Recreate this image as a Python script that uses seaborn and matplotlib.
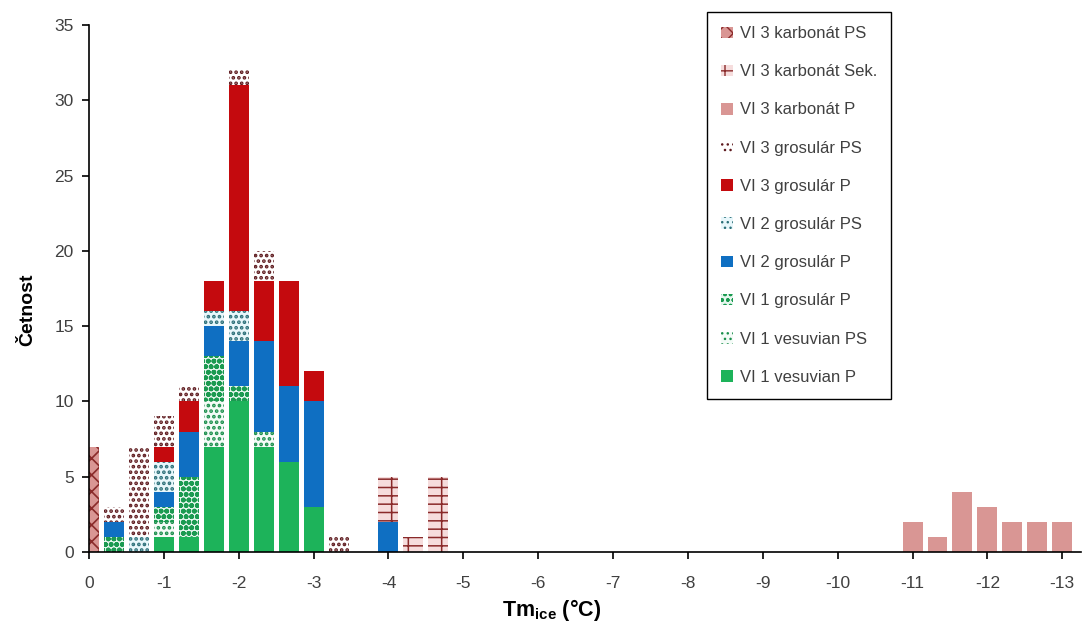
import numpy as np
import pandas as pd
import matplotlib
matplotlib.use("Agg")
import matplotlib.pyplot as plt
from matplotlib.patches import Patch
import seaborn as sns

# ---- data: 40 categories, Tm ice from 0 to -13 in steps of 1/3 °C ----
cat_idx = list(range(40))
tick_pos = [0, 3, 6, 9, 12, 15, 18, 21, 24, 27, 30, 33, 36, 39]
tick_labels = ["0", "-1", "-2", "-3", "-4", "-5", "-6", "-7", "-8", "-9",
               "-10", "-11", "-12", "-13"]

vi1_vesuvian_P = [0, 0, 0, 1, 1, 7, 10, 7, 6, 3, 0, 0, 0, 0, 0, 0, 0, 0, 0, 0,
                  0, 0, 0, 0, 0, 0, 0, 0, 0, 0, 0, 0, 0, 0, 0, 0, 0, 0, 0, 0]
vi1_vesuvian_PS = [0, 0, 0, 1, 0, 3, 0, 1, 0, 0, 0, 0, 0, 0, 0, 0, 0, 0, 0, 0,
                   0, 0, 0, 0, 0, 0, 0, 0, 0, 0, 0, 0, 0, 0, 0, 0, 0, 0, 0, 0]
vi1_grosular_P = [0, 1, 0, 1, 4, 3, 1, 0, 0, 0, 0, 0, 0, 0, 0, 0, 0, 0, 0, 0,
                  0, 0, 0, 0, 0, 0, 0, 0, 0, 0, 0, 0, 0, 0, 0, 0, 0, 0, 0, 0]
vi2_grosular_P = [0, 1, 0, 1, 3, 2, 3, 6, 5, 7, 0, 0, 2, 0, 0, 0, 0, 0, 0, 0,
                  0, 0, 0, 0, 0, 0, 0, 0, 0, 0, 0, 0, 0, 0, 0, 0, 0, 0, 0, 0]
vi2_grosular_PS = [0, 0, 1, 2, 0, 1, 2, 0, 0, 0, 0, 0, 0, 0, 0, 0, 0, 0, 0, 0,
                   0, 0, 0, 0, 0, 0, 0, 0, 0, 0, 0, 0, 0, 0, 0, 0, 0, 0, 0, 0]
vi3_grosular_P = [0, 0, 0, 1, 2, 2, 15, 4, 7, 2, 0, 0, 0, 0, 0, 0, 0, 0, 0, 0,
                  0, 0, 0, 0, 0, 0, 0, 0, 0, 0, 0, 0, 0, 0, 0, 0, 0, 0, 0, 0]
vi3_grosular_PS = [0, 1, 6, 2, 1, 0, 1, 2, 0, 0, 1, 0, 0, 0, 0, 0, 0, 0, 0, 0,
                   0, 0, 0, 0, 0, 0, 0, 0, 0, 0, 0, 0, 0, 0, 0, 0, 0, 0, 0, 0]
vi3_karbonat_P = [0, 0, 0, 0, 0, 0, 0, 0, 0, 0, 0, 0, 0, 0, 0, 0, 0, 0, 0, 0,
                  0, 0, 0, 0, 0, 0, 0, 0, 0, 0, 0, 0, 0, 2, 1, 4, 3, 2, 2, 2]
vi3_karbonat_Sek = [0, 0, 0, 0, 0, 0, 0, 0, 0, 0, 0, 0, 3, 1, 5, 0, 0, 0, 0, 0,
                    0, 0, 0, 0, 0, 0, 0, 0, 0, 0, 0, 0, 0, 0, 0, 0, 0, 0, 0, 0]
vi3_karbonat_PS = [7, 0, 0, 0, 0, 0, 0, 0, 0, 0, 0, 0, 0, 0, 0, 0, 0, 0, 0, 0,
                   0, 0, 0, 0, 0, 0, 0, 0, 0, 0, 0, 0, 0, 0, 0, 0, 0, 0, 0, 0]

series_names = ["VI 1 vesuvian P", "VI 1 vesuvian PS", "VI 1 grosulár P",
                "VI 2 grosulár P", "VI 2 grosulár PS", "VI 3 grosulár P",
                "VI 3 grosulár PS", "VI 3 karbonát P", "VI 3 karbonát Sek.",
                "VI 3 karbonát PS"]
series_values = [vi1_vesuvian_P, vi1_vesuvian_PS, vi1_grosular_P,
                 vi2_grosular_P, vi2_grosular_PS, vi3_grosular_P,
                 vi3_grosular_PS, vi3_karbonat_P, vi3_karbonat_Sek,
                 vi3_karbonat_PS]

# style: (facecolor, hatch colour, hatch, hatch linewidth)
styles = [
    ("#1db35a", "#1db35a", None, 1.0),
    ("#f4fbf7", "#1a8f4c", "...", 1.8),
    ("#e6f6ee", "#1a9a50", "ooo", 1.8),
    ("#0f6fc2", "#0f6fc2", None, 1.0),
    ("#e8f7fb", "#2b6f78", "...", 1.8),
    ("#c40a0e", "#c40a0e", None, 1.0),
    ("#ffffff", "#5e1a1e", "...", 1.8),
    ("#d99694", "#d99694", None, 1.0),
    ("#f6dddd", "#8a2a2a", "--|", 1.1),
    ("#d99694", "#8a2a2a", "xx", 1.2),
]


def set_hatch_lw(p, lw):
    if hasattr(p, "set_hatch_linewidth"):
        p.set_hatch_linewidth(lw)
    else:
        p._hatch_linewidth = lw


sns.set_theme(style="ticks")
plt.rcParams["font.family"] = ["Liberation Sans Narrow", "Liberation Sans", "DejaVu Sans"]
plt.rcParams["mathtext.fontset"] = "custom"
plt.rcParams["mathtext.bf"] = "Liberation Sans:bold"
plt.rcParams["mathtext.rm"] = "Liberation Sans"

fig = plt.figure(figsize=(10.88, 6.30), dpi=100)
ax = fig.add_axes([89 / 1088, 1 - 552 / 630, (1081 - 89) / 1088, (552 - 25) / 630])

bottom = np.zeros(len(cat_idx))
handles = []
for name, vals, (fc, hc, h, hlw) in zip(series_names, series_values, styles):
    df = pd.DataFrame({"cat": cat_idx, "val": vals})
    sns.barplot(data=df, x="cat", y="val", order=cat_idx, errorbar=None,
                width=0.8, color=fc, saturation=1, bottom=bottom.copy(), ax=ax)
    for p in ax.containers[-1]:
        p.set_facecolor(fc)
        p.set_edgecolor(hc)
        p.set_linewidth(0)
        if h:
            p.set_hatch(h)
            set_hatch_lw(p, hlw)
    hp = Patch(facecolor=fc, edgecolor=hc, hatch=h, linewidth=0, label=name)
    set_hatch_lw(hp, hlw)
    handles.append(hp)
    bottom += np.array(vals, dtype=float)

ax.set_xlim(0, 39.75)
ax.set_ylim(0, 35)
ax.set_yticks(range(0, 36, 5))
ax.set_xticks(tick_pos)
ax.set_xticklabels(tick_labels)
for s in ["top", "right"]:
    ax.spines[s].set_visible(False)
for s in ["left", "bottom"]:
    ax.spines[s].set_color("black")
    ax.spines[s].set_linewidth(1.2)
ax.tick_params(axis="both", direction="out", length=5, width=1.2, color="black",
               labelsize=12.5, labelcolor="#404040")
ax.tick_params(axis="x", pad=12)
ax.tick_params(axis="y", pad=6)

ax.set_ylabel("Četnost", fontsize=14, fontweight="bold", color="black")
ax.yaxis.set_label_coords(-0.053, 0.459)
ax.set_xlabel(r"Tm$_{\mathbf{ice}}$ (°C)", fontsize=15.5, fontweight="bold", color="black")
ax.xaxis.set_label_coords(0.466, -0.085)

leg = ax.legend(handles=handles[::-1], loc="upper left",
                bbox_to_anchor=(707 / 1088, 1 - 12 / 630), bbox_transform=fig.transFigure,
                fontsize=12, frameon=True, fancybox=False, framealpha=1,
                edgecolor="black", handlelength=0.7, handleheight=0.7,
                handletextpad=0.4, labelspacing=1.39, borderpad=0.85,
                borderaxespad=0)
leg.get_frame().set_linewidth(1.0)
for t in leg.get_texts():
    t.set_color("#404040")

fig.savefig("out.png", dpi=100)
